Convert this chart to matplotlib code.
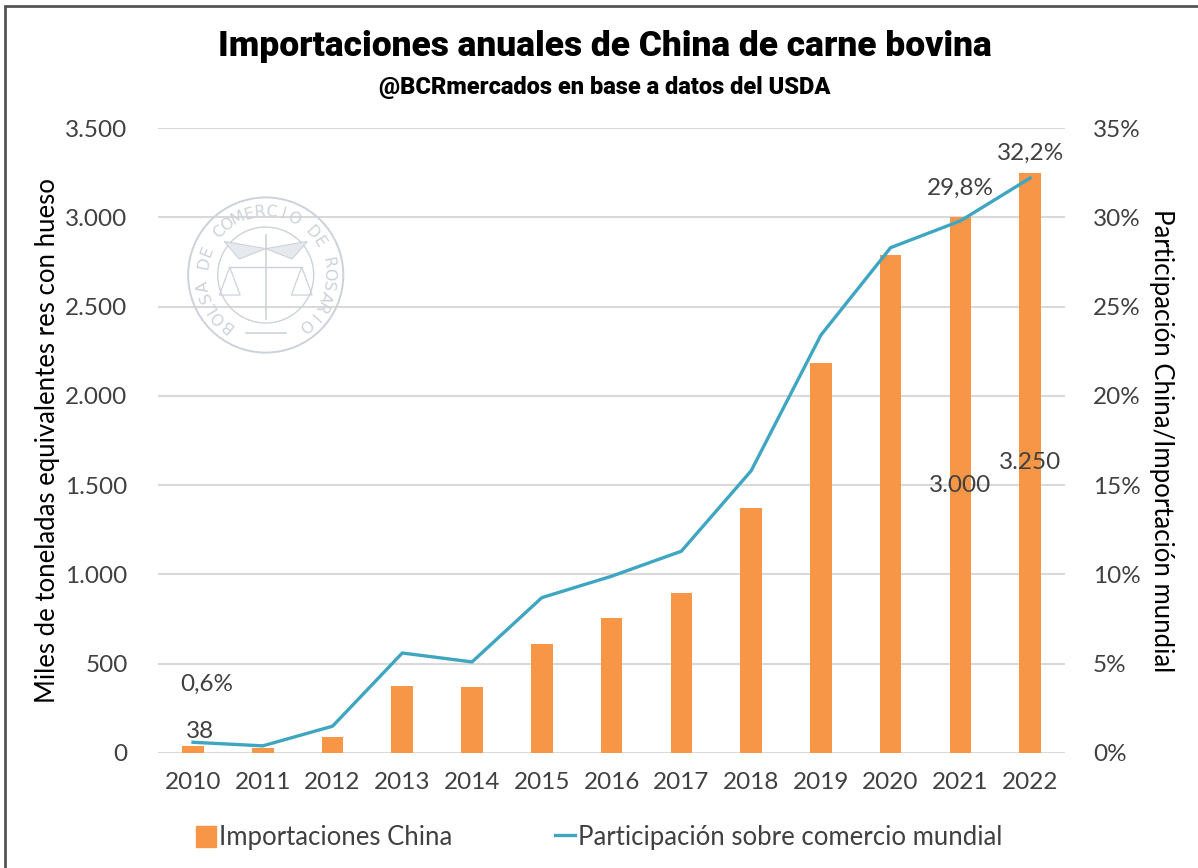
import numpy as np
import matplotlib
matplotlib.use("Agg")
import matplotlib.pyplot as plt
from matplotlib.patches import Rectangle, Circle, Polygon
from matplotlib.lines import Line2D
from matplotlib.ticker import FuncFormatter, MultipleLocator

# datos
anios = ["2010", "2011", "2012", "2013", "2014", "2015", "2016",
         "2017", "2018", "2019", "2020", "2021", "2022"]
importaciones = [38, 28, 90, 375, 368, 610, 756, 898, 1372, 2184, 2789, 3000, 3250]
participacion = [0.6, 0.4, 1.5, 5.6, 5.1, 8.7, 9.9, 11.3, 15.8, 23.4, 28.3, 29.8, 32.2]

titulo = "Importaciones anuales de China de carne bovina"
subtitulo = "@BCRmercados en base a datos del USDA"
label_izq = "Miles de toneladas equivalentes res con hueso"
label_der = "Participación China/Importación mundial"
leyenda_barras = "Importaciones China"
leyenda_linea = "Participación sobre comercio mundial"

naranja = "#F79646"
celeste = "#3FA6C2"
gris_txt = "#404040"
gris_grid = "#D9D9D9"

plt.rcParams["font.family"] = ["Lato", "DejaVu Sans"]

fig = plt.figure(figsize=(11.98, 8.68), dpi=100)
ax = fig.add_axes([0.132, 0.1325, 0.757, 0.72])
ax2 = ax.twinx()

x = np.arange(len(anios))
ax.bar(x, importaciones, width=0.31, color=naranja, zorder=3)
ax2.plot(x, participacion, color=celeste, lw=2.4, zorder=4)

ax.set_xlim(-0.5, len(anios) - 0.5)
ax.set_ylim(0, 3500)
ax2.set_ylim(0, 35)
ax.yaxis.set_major_locator(MultipleLocator(500))
ax2.yaxis.set_major_locator(MultipleLocator(5))
ax.yaxis.set_major_formatter(FuncFormatter(lambda v, p: f"{int(v):,}".replace(",", ".")))
ax2.yaxis.set_major_formatter(FuncFormatter(lambda v, p: f"{int(v)}%"))
ax.grid(axis="y", color=gris_grid, lw=1.5, zorder=0)
ax.set_axisbelow(True)

for a in (ax, ax2):
    for s in a.spines.values():
        s.set_visible(False)
    a.tick_params(length=0, labelsize=17.5, colors=gris_txt)

ax.set_xticks(x)
ax.set_xticklabels(anios)
ax.tick_params(axis="x", pad=14)
ax.tick_params(axis="y", pad=22)
ax2.tick_params(axis="y", pad=20)

ax.set_ylabel(label_izq, fontsize=18.5, color="black", labelpad=4)
ax2.set_ylabel(label_der, fontsize=18.5, color="black", rotation=-90, labelpad=24)

# etiquetas de datos
fmt_miles = lambda v: f"{v:,}".replace(",", ".")
ax.annotate(fmt_miles(importaciones[0]), (x[0], importaciones[0]), xytext=(5, 3),
            textcoords="offset points", ha="center", va="bottom", fontsize=17.5, color=gris_txt)
for i in (11, 12):
    ax.text(x[i], importaciones[i] / 2, fmt_miles(importaciones[i]), ha="center", va="center",
            fontsize=17.5, color=gris_txt, zorder=5)
for i, dy in ((0, 34), (11, 16), (12, 10)):
    ax2.annotate(f"{participacion[i]:.1f}%".replace(".", ","), (x[i], participacion[i]),
                 xytext=(10 if i == 0 else 0, dy), textcoords="offset points",
                 ha="center", va="bottom", fontsize=17.5, color=gris_txt)

# títulos
fig.text(0.505, 0.947, titulo, ha="center", va="center", fontsize=25.5, fontweight="black",
         family=["Roboto", "DejaVu Sans"])
fig.text(0.505, 0.899, subtitulo, ha="center", va="center", fontsize=17, fontweight="black",
         family=["Roboto", "DejaVu Sans"])

# leyenda
handles = [Rectangle((0, 0), 1, 1, color=naranja), Line2D([], [], color=celeste, lw=2.4)]
fig.legend(handles, [leyenda_barras, leyenda_linea], loc="center", bbox_to_anchor=(0.5, 0.035),
           ncol=2, frameon=False, fontsize=18.5, handlelength=0.8, handleheight=0.9,
           handletextpad=0.1, columnspacing=4.0, labelcolor=gris_txt)

# sello de agua
sello = fig.add_axes([0.155, 0.591, 0.1336, 0.1843])
sello.set_xlim(-1, 1)
sello.set_ylim(-1, 1)
sello.set_aspect("equal")
sello.axis("off")
gs = "#CDD2DA"
sello.add_patch(Circle((0, 0), 0.97, fill=False, ec=gs, lw=1.4))
sello.add_patch(Circle((0, 0), 0.6, fill=False, ec=gs, lw=1.0))
texto = "BOLSA DE COMERCIO DE ROSARIO"
angs = np.linspace(232, -52, len(texto))
for ch, a in zip(texto, angs):
    r = np.deg2rad(a)
    sello.text(0.79 * np.cos(r), 0.79 * np.sin(r), ch, rotation=a - 90, ha="center", va="center",
               fontsize=11.5, color=gs, family="DejaVu Sans")
sello.plot([0, 0], [-0.55, 0.5], color=gs, lw=1.2)
sello.plot([-0.45, 0.45], [0.1, 0.1], color=gs, lw=1.0)
for sx in (-1, 1):
    sello.add_patch(Polygon([[sx * 0.45, 0.1], [sx * 0.58, -0.25], [sx * 0.32, -0.25]],
                            fill=False, ec=gs, lw=0.9))
    sello.add_patch(Polygon([[0, 0.33], [sx * 0.52, 0.42], [sx * 0.33, 0.2]],
                            fc="#E6E9EE", ec=gs, lw=0.8))
sello.plot([-0.25, 0.25], [-0.72, -0.72], color=gs, lw=1.2)

# marco
fig.add_artist(Rectangle((0.004, -0.05), 1.1, 1.043, transform=fig.transFigure,
                         fill=False, ec="#555555", lw=2.0))

fig.savefig("out.png", dpi=100)
